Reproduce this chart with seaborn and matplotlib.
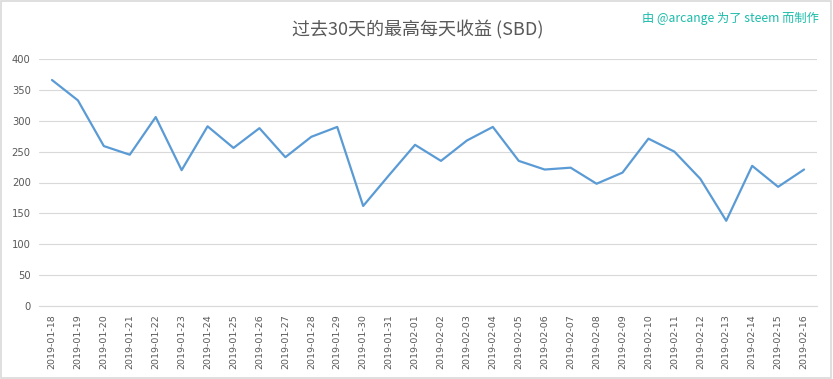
import matplotlib
matplotlib.use("Agg")
import matplotlib.pyplot as plt
import seaborn as sns
import pandas as pd
from matplotlib.patches import Rectangle

# Datos
dates = ["2019-01-18", "2019-01-19", "2019-01-20", "2019-01-21", "2019-01-22",
         "2019-01-23", "2019-01-24", "2019-01-25", "2019-01-26", "2019-01-27",
         "2019-01-28", "2019-01-29", "2019-01-30", "2019-01-31", "2019-02-01",
         "2019-02-02", "2019-02-03", "2019-02-04", "2019-02-05", "2019-02-06",
         "2019-02-07", "2019-02-08", "2019-02-09", "2019-02-10", "2019-02-11",
         "2019-02-12", "2019-02-13", "2019-02-14", "2019-02-15", "2019-02-16"]
earnings = [366, 333, 259, 245, 306, 220, 291, 256, 288, 241,
            274, 290, 162, 212, 261, 235, 268, 290, 235, 221,
            224, 198, 216, 271, 250, 206, 138, 227, 193, 221]
yticks = [0, 50, 100, 150, 200, 250, 300, 350, 400]

title = "过去30天的最高每天收益 (SBD)"
credit = "由 @arcange 为了 steem 而制作"

sns.set_theme(style="white")
plt.rcParams["font.family"] = ["Noto Sans CJK SC", "DejaVu Sans"]

df = pd.DataFrame({"date": dates, "value": earnings})

fig = plt.figure(figsize=(8.33, 3.79), dpi=100)
ax = fig.add_axes([39 / 833, 1 - 306 / 379, (817 - 39) / 833, (306 - 59) / 379])

sns.lineplot(data=df, x="date", y="value", ax=ax, color="#5B9BD5", linewidth=1.6, sort=False)

ax.set_xlim(-0.5, len(dates) - 0.5)
ax.set_ylim(0, 400)
ax.set_yticks(yticks)
ax.set_yticklabels([str(t) for t in yticks], fontsize=7.2, color="#595959", family="DejaVu Sans")
ax.set_xticks(range(len(dates)))
ax.set_xticklabels(dates, rotation=90, fontsize=6.8, color="#595959", family="DejaVu Sans")
ax.tick_params(axis="both", length=0, pad=6)
ax.set_xlabel("")
ax.set_ylabel("")
ax.grid(axis="y", color="#D9D9D9", linewidth=0.8)
ax.set_axisbelow(True)
for s in ["top", "right", "left"]:
    ax.spines[s].set_visible(False)
ax.spines["bottom"].set_color("#D9D9D9")
ax.spines["bottom"].set_linewidth(0.8)

fig.text(418 / 833, 1 - 30 / 379, title, ha="center", va="center", fontsize=13, color="#595959")
fig.text(819 / 833, 1 - 18 / 379, credit, ha="right", va="center", fontsize=8.8, color="#1CBCAA")

# Borde del gráfico
fig.patches.append(Rectangle((0.001, 0.002), 0.997, 0.995, transform=fig.transFigure,
                             fill=False, edgecolor="#D9D9D9", linewidth=1.2))

fig.savefig("out.png", dpi=100)
